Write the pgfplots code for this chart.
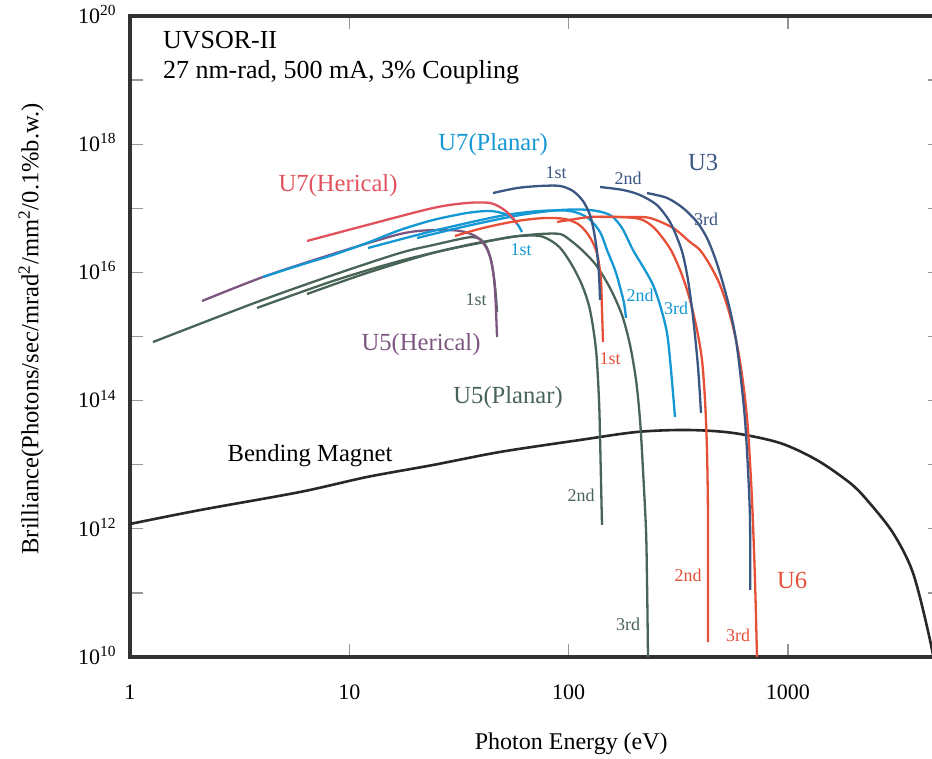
\documentclass[border=0pt]{standalone}
\usepackage{fontspec}
\setmainfont{Liberation Serif}
\usepackage{pgfplots}
\pgfplotsset{compat=1.18}
\usetikzlibrary{calc}

\definecolor{cPink}{RGB}{226,82,94}
\definecolor{cBlue}{RGB}{20,152,212}
\definecolor{cNavy}{RGB}{58,86,130}
\definecolor{cPurple}{RGB}{124,86,128}
\definecolor{cGreen}{RGB}{72,100,86}
\definecolor{cRed}{RGB}{230,80,56}
\definecolor{cBM}{RGB}{40,40,40}
\definecolor{cAxis}{RGB}{50,50,50}
\definecolor{cTick}{RGB}{150,150,150}

\newcommand{\lblbig}{\fontsize{12.3}{14}\selectfont}
\newcommand{\lblsmall}{\fontsize{9}{11}\selectfont}

\begin{document}
\begin{tikzpicture}
\begin{axis}[
name=ax, at={(0,0)}, anchor=south west,
scale only axis, width=405.6pt, height=320.5pt,
xmode=log, ymode=log,
xmin=1, xmax=5000, ymin=1e10, ymax=1e20,
xtick={1,10,100,1000}, xticklabels={1,10,100,1000},
ytick={1e10,1e11,1e12,1e13,1e14,1e15,1e16,1e17,1e18,1e19,1e20},
yticklabels={10\textsuperscript{10},,10\textsuperscript{12},,10\textsuperscript{14},,10\textsuperscript{16},,10\textsuperscript{18},,10\textsuperscript{20}},
xminorticks=false, yminorticks=false,
tick align=inside, major tick length=6.5pt,
tick style={draw=cTick, line width=0.6pt},
axis line style={draw=cAxis, line width=1.7pt},
ticklabel style={font=\fontsize{11}{13}\selectfont, inner sep=0pt},
xticklabel style={anchor=base, yshift=-21pt},
yticklabel style={anchor=base east, xshift=-6.5pt, yshift=-3.7pt},
xlabel={Photon Energy (eV)},
xlabel style={font=\fontsize{12}{14}\selectfont, at={(rel axis cs:0.544,0)}, anchor=base, yshift=-46pt},
ylabel={Brilliance(Photons/sec/mrad\textsuperscript{2}/mm\textsuperscript{2}/0.1\%b.w.)},
ylabel style={font=\fontsize{12.3}{14}\selectfont, at={(rel axis cs:-0.122,0.512)}, anchor=center},
every axis plot/.append style={line width=1.15pt, smooth, tension=0.5},
]
% Bending magnet
\addplot[cBM, line width=1.3pt] coordinates {
(1,1.19e12) (2.085,1.96e12) (5.961,3.75e12) (12.04,6.43e12) (24.08,9.89e12)
(48.67,1.58e13) (112.7,2.43e13) (205.1,3.24e13) (346.7,3.48e13) (561.9,3.13e13)
(920.5,2.18e13) (1357,1.18e13) (1920,5.19e12) (2295,2.81e12) (3016,8.61e11)
(3720,2.04e11) (4446,1.84e10) (4993,2.1e9)};
% U5 planar
\addplot[cGreen] coordinates {
(1.273,8.20e14) (3.794,3.45e15) (8.427,9.10e15) (17.03,2.01e16) (24.08,2.67e16)
(31.97,3.32e16) (36.27,3.56e16) (39.45,3.32e16) (42.02,2.58e16) (44.27,1.56e16)
(45.70,8.18e15) (46.67,3.99e15) (47.16,2.41e15)};
\addplot[cGreen] coordinates {
(3.794,2.79e15) (8.427,7.34e15) (17.03,1.51e16) (34.41,2.67e16) (48.67,3.32e16)
(60.04,3.70e16) (74.08,3.70e16) (84.90,2.98e16) (93.31,2.23e16) (103.6,1.30e16)
(115.1,6.36e15) (125.2,2.59e15) (133.4,6.15e14) (137.6,1.02e14) (139.1,2.70e13)
(140.5,5.77e12) (142.0,1.15e12)};
\addplot[cGreen] coordinates {
(6.413,4.60e15) (12.04,9.79e15) (24.08,2.01e16) (39.45,2.88e16) (54.06,3.56e16)
(74.08,3.97e16) (91.38,3.97e16) (101.5,3.20e16) (115.1,2.23e16) (133.4,1.30e16)
(154.5,5.71e15) (175.2,2.16e15) (190.6,7.36e14) (203.0,2.09e14) (211.7,4.98e13)
(218.4,8.26e12) (225.4,9.57e11) (227.8,1.59e11) (230.2,1e10)};
% U5 helical
\addplot[cPurple] coordinates {
(2.130,3.58e15) (4.042,8.48e15) (8.427,1.94e16) (17.03,3.97e16) (24.08,4.58e16)
(31.97,4.43e16) (38.22,3.56e16) (42.47,2.32e16) (44.75,1.30e16) (46.18,5.31e15)
(47.16,9.82e14)};
% U7 planar
\addplot[cBlue] coordinates {
(4.042,8.48e15) (5.961,1.30e16) (8.427,1.87e16) (12.04,2.88e16) (17.03,4.58e16)
(24.08,6.56e16) (34.41,8.45e16) (43.81,9.08e16) (51.29,8.15e16) (55.79,6.81e16)
(58.80,5.48e16) (61.31,4.27e16)};
\addplot[cBlue] coordinates {
(12.17,2.40e16) (24.08,4.43e16) (48.67,7.58e16) (74.08,9.08e16) (101.5,9.08e16)
(122.6,7.06e16) (139.1,4.27e16) (149.7,2.23e16) (162.8,1.09e16) (171.6,5.92e15)
(178.9,3.33e15) (182.7,1.95e15)};
\addplot[cBlue] coordinates {
(20.36,3.44e16) (34.41,5.30e16) (60.04,7.85e16) (91.38,9.40e16) (125.2,9.40e16)
(154.5,7.85e16) (175.2,4.93e16) (196.7,2.23e16) (223.0,1.09e16) (242.6,6.36e15)
(261.1,3.10e15) (281.0,1.13e15) (293.1,3.00e14) (305.6,5.55e13)};
% U7 helical
\addplot[cPink] coordinates {
(6.413,3.09e16) (12.04,5.48e16) (24.08,1.01e17) (34.41,1.21e17) (43.81,1.21e17)
(50.23,9.75e16) (55.21,7.31e16) (58.18,5.69e16)};
% U6
\addplot[cRed] coordinates {
(30.34,3.70e16) (40.71,4.93e16) (58.18,6.34e16) (78.06,7.06e16) (96.30,6.81e16)
(110.4,5.69e16) (121.3,4.12e16) (130.6,2.67e16) (136.2,1.68e16) (140.5,7.60e15)
(142.0,2.59e15) (143.5,8.20e14)};
\addplot[cRed] coordinates {
(88.54,6.11e16) (125.2,7.31e16) (171.6,7.31e16) (211.7,6.81e16) (240.1,5.30e16)
(266.6,3.56e16) (296.2,2.08e16) (328.9,9.10e15) (357.8,3.71e15) (385.1,1.26e15)
(405.8,4.30e14) (418.8,1.02e14) (427.6,1.69e13) (432.2,1.37e12) (432.2,1.71e10)};
\addplot[cRed] coordinates {
(139.1,7.31e16) (190.6,7.31e16) (235.1,7.06e16) (299.4,4.93e16) (357.8,2.98e16)
(397.4,2.23e16) (441.3,1.30e16) (490.3,6.36e15) (544.5,2.16e15) (592.4,6.15e14)
(630.8,1.46e14) (657.9,3.48e13) (686.1,2.81e12) (707.9,1.59e11) (722.9,1e10)};
% U3
\addplot[cNavy] coordinates {
(45.22,1.73e17) (58.18,2.07e17) (74.08,2.23e17) (91.38,2.23e17) (104.7,1.86e17)
(116.3,1.30e17) (125.2,7.85e16) (130.6,4.27e16) (134.8,2.08e16) (137.6,9.10e15)
(139.1,3.71e15)};
\addplot[cNavy] coordinates {
(139.1,2.15e17) (177.1,1.93e17) (211.7,1.61e17) (253.0,1.12e17) (290.0,6.11e16)
(315.4,3.20e16) (332.4,1.87e16) (350.4,7.60e15) (369.3,2.01e15) (389.2,3.34e14)
(401.5,6.41e13)};
\addplot[cNavy] coordinates {
(227.8,1.73e17) (281.0,1.45e17) (332.4,1.01e17) (385.1,6.11e16) (427.6,3.44e16)
(465.2,1.68e16) (500.7,7.60e15) (544.5,2.59e15) (580.0,8.81e14) (611.3,2.09e14)
(637.5,4.98e13) (657.9,8.26e12) (671.8,1.37e12) (673.0,1.11e11)};

% labels
\node[anchor=base west, font=\fontsize{13}{15}\selectfont] at (rel axis cs:0.032,0.950) {UVSOR-II};
\node[anchor=base west, font=\fontsize{13}{15}\selectfont] at (rel axis cs:0.032,0.902) {27 nm-rad, 500 mA, 3\% Coupling};
\node[text=cBlue, font=\lblbig] at (rel axis cs:0.4476,0.7988) {U7(Planar)};
\node[text=cPink, font=\lblbig] at (rel axis cs:0.2565,0.7348) {U7(Herical)};
\node[text=cNavy, font=\lblbig] at (rel axis cs:0.7065,0.7707) {U3};
\node[text=cNavy, font=\lblsmall] at (rel axis cs:0.5253,0.7551) {1st};
\node[text=cNavy, font=\lblsmall] at (rel axis cs:0.6140,0.7473) {2nd};
\node[text=cNavy, font=\lblsmall] at (rel axis cs:0.7102,0.6833) {3rd};
\node[text=cBlue, font=\lblsmall] at (rel axis cs:0.4821,0.6349) {1st};
\node[text=cBlue, font=\lblsmall] at (rel axis cs:0.6289,0.5647) {2nd};
\node[text=cBlue, font=\lblsmall] at (rel axis cs:0.6732,0.5445) {3rd};
\node[text=cGreen, font=\lblsmall] at (rel axis cs:0.4266,0.5569) {1st};
\node[text=cPurple, font=\lblbig] at (rel axis cs:0.3588,0.4867) {U5(Herical)};
\node[text=cRed, font=\lblsmall] at (rel axis cs:0.5919,0.4649) {1st};
\node[text=cGreen, font=\lblbig] at (rel axis cs:0.4661,0.4041) {U5(Planar)};
\node[text=black, font=\lblbig] at (rel axis cs:0.2219,0.3136) {Bending Magnet};
\node[text=cGreen, font=\lblsmall] at (rel axis cs:0.5561,0.2527) {2nd};
\node[text=cGreen, font=\lblsmall] at (rel axis cs:0.6140,0.0515) {3rd};
\node[text=cRed, font=\lblsmall] at (rel axis cs:0.6880,0.1279) {2nd};
\node[text=cRed, font=\lblbig] at (rel axis cs:0.8163,0.1201) {U6};
\node[text=cRed, font=\lblsmall] at (rel axis cs:0.7497,0.0343) {3rd};
\end{axis}
\pgfresetboundingbox
\path ($(ax.south west)+(-65pt,-50.5pt)$) rectangle ($(ax.north west)+(401pt,8pt)$);
\end{tikzpicture}
\end{document}
